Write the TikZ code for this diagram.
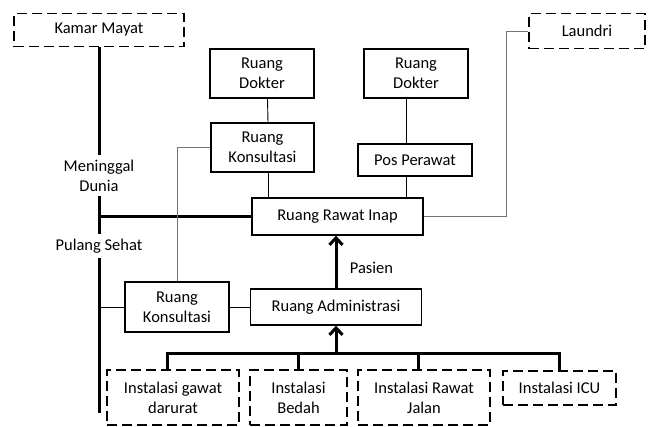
\documentclass[tikz,border=0pt]{standalone}
\usepackage{fontspec}
\setmainfont{Carlito}
\usetikzlibrary{arrows.meta, positioning, calc}

\begin{document}
\begin{tikzpicture}[x=1pt, y=-1pt,
    room/.style={draw, line width=1.3pt, align=center, inner sep=2pt},
    outside/.style={room, dash pattern=on 10pt off 5pt},
    link/.style={line width=0.9pt},
    greylink/.style={line width=0.9pt, draw=black!55},
    flow/.style={line width=3pt},
    exitlabel/.style={fill=white, align=center, inner xsep=2pt, inner ysep=5pt},
    font=\fontsize{16.5}{20}\selectfont]
    \useasboundingbox (0,0) rectangle (655,426);
    % ruang di luar gedung
    \node[outside, minimum width=170pt, minimum height=33pt] (kamar) at (99,30) {Kamar Mayat};
    \node[outside, minimum width=116pt, minimum height=35pt] (laundri) at (587,31) {Laundri};
    % ruang rawat inap
    \node[room, minimum width=104pt, minimum height=49pt] (dokterA) at (262,73.5) {Ruang\\Dokter};
    \node[room, minimum width=103pt, minimum height=49pt] (konsulA) at (262.5,147.5) {Ruang\\Konsultasi};
    \node[room, minimum width=104pt, minimum height=49pt] (dokterB) at (416,73.5) {Ruang\\Dokter};
    \node[room, minimum width=114pt, minimum height=32pt] (pos) at (415,160) {Pos Perawat};
    \node[room, minimum width=171pt, minimum height=37pt] (inap) at (337.5,216.5) {Ruang Rawat Inap};
    \node[room, minimum width=104pt, minimum height=50pt] (konsulB) at (177,307) {Ruang\\Konsultasi};
    \node[room, minimum width=171pt, minimum height=36pt] (admin) at (336,307) {Ruang Administrasi};
    % instalasi
    \node[outside, minimum width=132pt, minimum height=55pt] (igd) at (173,397.5) {Instalasi gawat\\darurat};
    \node[outside, minimum width=97pt, minimum height=55pt] (bedah) at (298.5,397.5) {Instalasi\\Bedah};
    \node[outside, minimum width=132pt, minimum height=55pt] (jalan) at (424,397.5) {Instalasi Rawat\\Jalan};
    \node[outside, minimum width=113pt, minimum height=34pt] (icu) at (559.5,388) {Instalasi ICU};
    % jalur keluar pasien
    \node[exitlabel] (mati) at (99,175.5) {Meninggal\\Dunia};
    \node[exitlabel] (sehat) at (99,246) {Pulang Sehat};
    \coordinate (spineend) at (99,413);
    \coordinate (bus) at (336,353);
    \coordinate (lbend) at (506,216.5);
    \node (pasien) at (371.5,268) {Pasien};

    \draw[flow] (kamar.south) -- (mati.north);
    \draw[flow] (mati.south) -- (sehat.north);
    \draw[flow] (sehat.south) -- (spineend);
    \draw[flow] (inap.west) -- (inap.west -| kamar.south);

    \draw[link] ([xshift=5.5pt]dokterA.south) -- ([xshift=5.5pt]konsulA.north);
    \draw[link] ([xshift=5.5pt]konsulA.south) -- ([xshift=5.5pt]konsulA.south |- inap.north);
    \draw[link] ([xshift=-10pt]dokterB.south) -- ([xshift=-9pt]pos.north);
    \draw[link] ([xshift=-9pt]pos.south) -- ([xshift=-9pt]pos.south |- inap.north);
    \draw[greylink] (konsulA.west) -| (konsulB.north);
    \draw[greylink] (laundri.west) -| (lbend) -- (inap.east);
    \draw[link] (konsulB.west) -- (konsulB.west -| kamar.south);
    \draw[link] (konsulB) -- (admin);

    \draw[flow, -{Straight Barb[length=7pt, width=13pt]}] (admin.north) -- (admin.north |- inap.south);
    \draw[flow] ([xshift=-6pt]igd.north) |- (bus) -| (icu.north);
    \draw[flow] (bedah.north) -- (bedah.north |- bus);
    \draw[flow] ([xshift=-6pt]jalan.north) -- ([xshift=-6pt]jalan.north |- bus);
    \draw[flow, -{Straight Barb[length=7pt, width=13pt]}] (bus) -- (admin.south);
\end{tikzpicture}
\end{document}
